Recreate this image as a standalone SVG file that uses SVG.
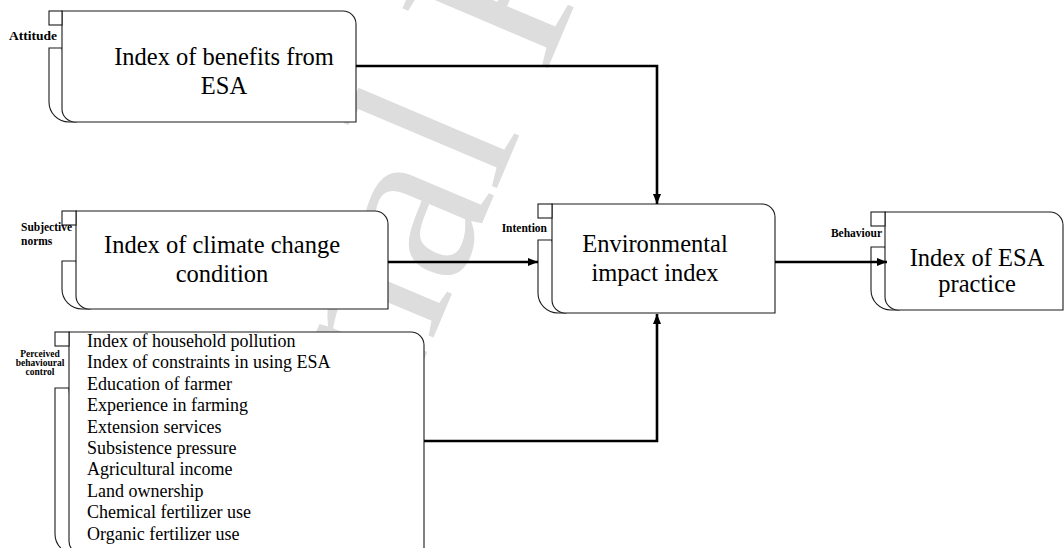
<svg xmlns="http://www.w3.org/2000/svg" width="1064" height="548" viewBox="0 0 1064 548">
  <defs>
    <style>
      .shape { fill: #ffffff; stroke: #1a1a1a; stroke-width: 1.1; }
      .tab { fill: #ffffff; stroke: #1a1a1a; stroke-width: 1.1; }
      .main-text { font-family: "Liberation Serif", "Times New Roman", serif; font-size: 24.5px; fill: #000; text-anchor: middle; }
      .list-text { font-family: "Liberation Serif", "Times New Roman", serif; font-size: 18px; fill: #000; }
      .tag { font-family: "Liberation Serif", "Times New Roman", serif; font-weight: bold; font-size: 11.5px; fill: #000; }
      .tag-small { font-family: "Liberation Serif", "Times New Roman", serif; font-weight: bold; font-size: 9.5px; fill: #000; text-anchor: middle; }
      .link { fill: none; stroke: #000; stroke-width: 2.6; }
      .wm { font-family: "Liberation Serif", "Times New Roman", serif; font-size: 240px; fill: #dddddd; }
    </style>
    <marker id="ah" viewBox="0 0 10 8" refX="10" refY="4" markerWidth="10" markerHeight="8" markerUnits="userSpaceOnUse" orient="auto">
      <path d="M0,0 L10,4 L0,8 Z" fill="#000"/>
    </marker>
  </defs>

  <rect width="1064" height="548" fill="#ffffff"/>

  <!-- page watermark, sits behind the figure -->
  <g id="watermark">
    <text class="wm" transform="translate(508,162) rotate(-67)" x="-673" y="0">Journal Pre-proof</text>
  </g>

  <!-- Attitude -->
  <g id="node-benefits">
    <path class="shape" d="M62,48 H49 V102 A20,20 0 0 0 69,122 H76 Z"/>
    <path class="shape" d="M62,11 H343 A13,13 0 0 1 356,24 V122 H75 A13,13 0 0 1 62,109 Z"/>
    <rect class="tab" x="49" y="11" width="13" height="14"/>
    <text class="tag" x="57" y="40" text-anchor="end" style="font-size:13.5px">Attitude</text>
    <text class="main-text" x="224" y="65">Index of benefits from</text>
    <text class="main-text" x="224" y="94">ESA</text>
  </g>

  <!-- Subjective norms -->
  <g id="node-climate">
    <path class="shape" d="M76,261 H62 V289 A20,20 0 0 0 82,309 H90 Z"/>
    <path class="shape" d="M76,211 H375 A13,13 0 0 1 388,224 V309 H89 A13,13 0 0 1 76,296 Z"/>
    <rect class="tab" x="62" y="211" width="14" height="14"/>
    <text class="tag" x="21" y="231">Subjective</text>
    <text class="tag" x="21" y="245">norms</text>
    <text class="main-text" x="222" y="253">Index of climate change</text>
    <text class="main-text" x="222" y="282">condition</text>
  </g>

  <!-- Perceived behavioural control -->
  <g id="node-factors">
    <path class="shape" d="M69,388 H55 V534 A20,20 0 0 0 75,554 H83 Z"/>
    <path class="shape" d="M69,332 H411 A13,13 0 0 1 424,345 V554 H82 A13,13 0 0 1 69,541 Z"/>
    <rect class="tab" x="55" y="332" width="14" height="14"/>
    <text class="tag-small" x="40" y="357">Perceived</text>
    <text class="tag-small" x="40" y="366">behavioural</text>
    <text class="tag-small" x="40" y="375">control</text>
    <text class="list-text" x="87" y="347">Index of household pollution</text>
    <text class="list-text" x="87" y="368.4">Index of constraints in using ESA</text>
    <text class="list-text" x="87" y="389.8">Education of farmer</text>
    <text class="list-text" x="87" y="411.2">Experience in farming</text>
    <text class="list-text" x="87" y="432.6">Extension services</text>
    <text class="list-text" x="87" y="454">Subsistence pressure</text>
    <text class="list-text" x="87" y="475.4">Agricultural income</text>
    <text class="list-text" x="87" y="496.8">Land ownership</text>
    <text class="list-text" x="87" y="518.2">Chemical fertilizer use</text>
    <text class="list-text" x="87" y="539.6">Organic fertilizer use</text>
  </g>

  <!-- Intention -->
  <g id="node-impact">
    <path class="shape" d="M552,240 H538 V293 A20,20 0 0 0 558,313 H566 Z"/>
    <path class="shape" d="M552,204 H762 A13,13 0 0 1 775,217 V313 H565 A13,13 0 0 1 552,300 Z"/>
    <rect class="tab" x="538" y="204" width="14" height="14"/>
    <text class="tag" x="547" y="232" text-anchor="end">Intention</text>
    <text class="main-text" x="655" y="252">Environmental</text>
    <text class="main-text" x="655" y="281">impact index</text>
  </g>

  <!-- Behaviour -->
  <g id="node-practice">
    <path class="shape" d="M885,247 H871 V290 A20,20 0 0 0 891,310 H899 Z"/>
    <path class="shape" d="M885,212 H1050 A13,13 0 0 1 1063,225 V310 H898 A13,13 0 0 1 885,297 Z"/>
    <rect class="tab" x="871" y="212" width="14" height="14"/>
    <text class="tag" x="882" y="237" text-anchor="end">Behaviour</text>
    <text class="main-text" x="977" y="266">Index of ESA</text>
    <text class="main-text" x="977" y="292">practice</text>
  </g>

  <!-- connectors -->
  <g id="connectors">
    <path class="link" d="M356,66 H657 V204" marker-end="url(#ah)"/>
    <path class="link" d="M388,262 H538" marker-end="url(#ah)"/>
    <path class="link" d="M424,441 H657 V314" marker-end="url(#ah)"/>
    <path class="link" d="M775,262 H887" marker-end="url(#ah)"/>
  </g>
</svg>
